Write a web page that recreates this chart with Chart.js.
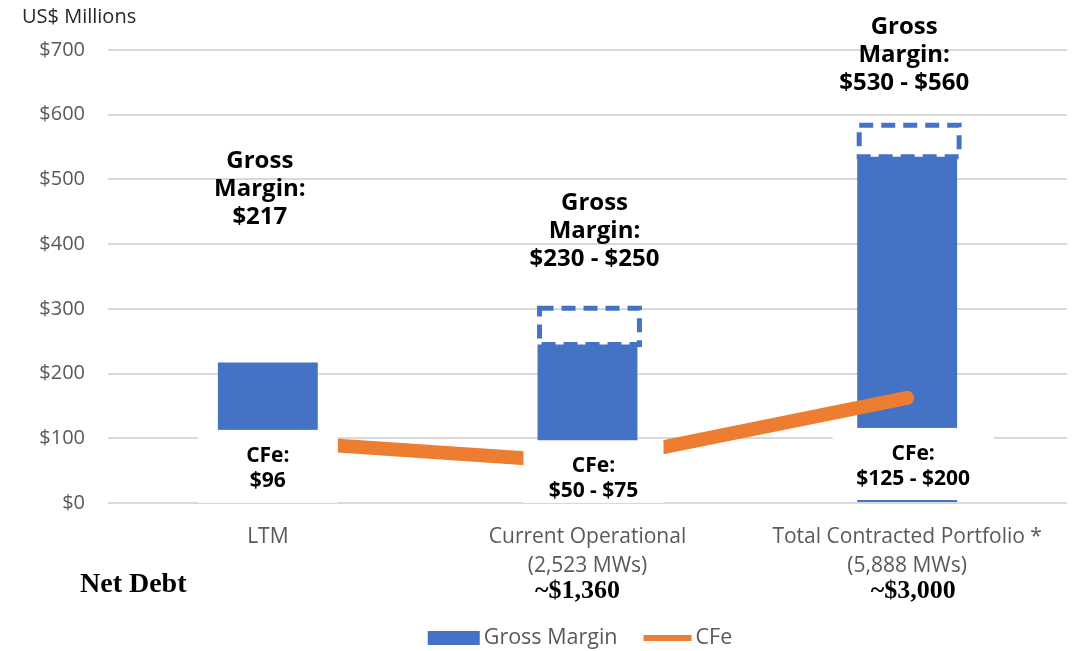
<!DOCTYPE html>
<html>
<head>
<meta charset="utf-8">
<script src="https://cdn.jsdelivr.net/npm/chart.js@4.4.1/dist/chart.umd.min.js"></script>
<style>
  html, body { margin: 0; padding: 0; background: #fff; }
  #wrap { width: 1073px; height: 651px; }
</style>
</head>
<body>
<div id="wrap"><canvas id="myChart"></canvas></div>
<script>

// data (US$ millions)
const categories = [['LTM'], ['Current Operational', '(2,523 MWs)'], ['Total Contracted Portfolio *', '(5,888 MWs)']];
const grossMargin = [217, 245, 535];
const grossMarginRange = [null, [245, 304], [535, 587]];
const cfe = [96, 62.5, 162.5];
const grossLabels = [['Gross', 'Margin:', '$217'], ['Gross', 'Margin:', '$230 - $250'], ['Gross', 'Margin:', '$530 - $560']];
const cfeLabels = [['CFe:', '$96'], ['CFe:', '$50 - $75'], ['CFe:', '$125 - $200']];
const netDebt = ['', '~$1,360', '~$3,000'];
const yTicks = [0, 100, 200, 300, 400, 500, 600, 700];

const BLUE = '#4472C4';
const ORANGE = '#ED7D31';
const GREY = '#595959';

// where the annotation boxes / texts sit (offsets from category centre, y in axis units)
const grossPos = [{ dx: -8, y: 529 }, { dx: 7, y: 464 }, { dx: -3, y: 736 }];
const cfeBox = [
  { dx: 0, w: 140, top: 113, bottom: 0.2 },
  { dx: 6, w: 140, top: 97, bottom: 0.2 },
  { dx: 6, w: 161, top: 116, bottom: 4.6 }
];
const debtPos = [0, -10, 6];

const overlay = {
  id: 'overlay',
  afterDatasetsDraw(chart) {
    const ctx = chart.ctx;
    const xs = chart.scales.x;
    const ys = chart.scales.y;

    // dashed range boxes on top of the bars
    chart.getDatasetMeta(2).data.forEach((bar, i) => {
      if (grossMarginRange[i] == null) return;
      const p = bar.getProps(['x', 'y', 'base', 'width'], true);
      ctx.save();
      ctx.strokeStyle = BLUE;
      ctx.lineWidth = 5;
      ctx.setLineDash([14, 8]);
      ctx.strokeRect(p.x - p.width / 2 + 2, p.y + 2, p.width, p.base - p.y - 2);
      ctx.restore();
    });

    // white CFe label boxes
    ctx.save();
    ctx.textAlign = 'center';
    ctx.textBaseline = 'middle';
    cfeBox.forEach((b, i) => {
      const cx = xs.getPixelForValue(i) + b.dx;
      const top = ys.getPixelForValue(b.top);
      const bot = ys.getPixelForValue(b.bottom);
      ctx.fillStyle = '#fff';
      ctx.fillRect(cx - b.w / 2, top, b.w, bot - top);
      ctx.fillStyle = '#000';
      ctx.font = 'bold 21px "Open Sans"';
      cfeLabels[i].forEach((t, k) => ctx.fillText(t, cx, top + 26 + k * 25));
    });

    // gross margin labels
    ctx.font = 'bold 24px "Open Sans"';
    grossLabels.forEach((lines, i) => {
      const cx = xs.getPixelForValue(i) + grossPos[i].dx;
      const y0 = ys.getPixelForValue(grossPos[i].y);
      lines.forEach((t, k) => ctx.fillText(t, cx, y0 + k * 28));
    });

    // net debt row
    ctx.font = 'bold 28px "Liberation Serif"';
    ctx.textAlign = 'left';
    ctx.fillText('Net Debt', 80, 585);
    ctx.font = 'bold 26px "Liberation Serif"';
    ctx.textAlign = 'center';
    netDebt.forEach((t, i) => {
      if (!t) return;
      ctx.fillText(t, xs.getPixelForValue(i) + debtPos[i], 591);
    });

    // axis title
    ctx.textAlign = 'left';
    ctx.font = '20px "Open Sans"';
    ctx.fillStyle = '#262626';
    ctx.fillText('US$ Millions', 22, 17);

    // legend (sits a little right of centre in the original)
    ctx.font = '21.5px "Open Sans"';
    const w1 = ctx.measureText('Gross Margin').width;
    const w2 = ctx.measureText('CFe').width;
    const total = 52 + 4 + w1 + 26 + 48 + 4 + w2;
    let lx = 580 - total / 2;
    const ly = 638;
    ctx.fillStyle = BLUE;
    ctx.fillRect(lx, ly - 7, 52, 14);
    lx += 56;
    ctx.fillStyle = GREY;
    ctx.fillText('Gross Margin', lx, ly);
    lx += w1 + 26;
    ctx.fillStyle = ORANGE;
    ctx.fillRect(lx, ly - 3, 48, 6);
    lx += 52;
    ctx.fillStyle = GREY;
    ctx.fillText('CFe', lx, ly);
    ctx.restore();
  }
};

var ctx = document.getElementById('myChart').getContext('2d');
var chart = new Chart(ctx, {
  type: 'bar',
  data: {
    labels: categories,
    datasets: [{
      type: 'line',
      label: 'CFe',
      data: cfe,
      borderColor: ORANGE,
      backgroundColor: ORANGE,
      borderWidth: 14,
      borderCapStyle: 'round',
      pointRadius: 0,
      tension: 0,
      fill: false,
      order: 0
    }, {
      label: 'Gross Margin',
      data: grossMargin,
      backgroundColor: BLUE,
      barPercentage: 0.3125,
      categoryPercentage: 1,
      grouped: false,
      order: 2
    }, {
      label: 'range',
      data: grossMarginRange,
      backgroundColor: 'rgba(0,0,0,0)',
      barPercentage: 0.3125,
      categoryPercentage: 1,
      grouped: false,
      order: 3
    }]
  },
  options: {
    responsive: true,
    maintainAspectRatio: false,
    animation: false,
    layout: { padding: { top: 50, right: 6, bottom: 43, left: 0 } },
    plugins: {
      legend: { display: false },
      tooltip: { enabled: false }
    },
    scales: {
      x: {
        grid: { display: false, drawTicks: false },
        border: { display: false },
        ticks: {
          color: GREY,
          font: { family: 'Open Sans', size: 21, lineHeight: 1.35 },
          padding: 20,
          maxRotation: 0
        },
        afterFit: (s) => { s.height = 105; }
      },
      y: {
        min: 0,
        max: 700,
        afterBuildTicks: (s) => { s.ticks = yTicks.map(v => ({ value: v })); },
        grid: { color: '#d9d9d9', lineWidth: 2, drawTicks: false },
        border: { display: false },
        ticks: {
          color: GREY,
          font: { family: 'Open Sans', size: 20 },
          padding: 23,
          callback: (v) => '$' + v
        },
        afterFit: (s) => { s.width = 108; }
      }
    }
  },
  plugins: [overlay]
});

</script>
</body>
</html>
